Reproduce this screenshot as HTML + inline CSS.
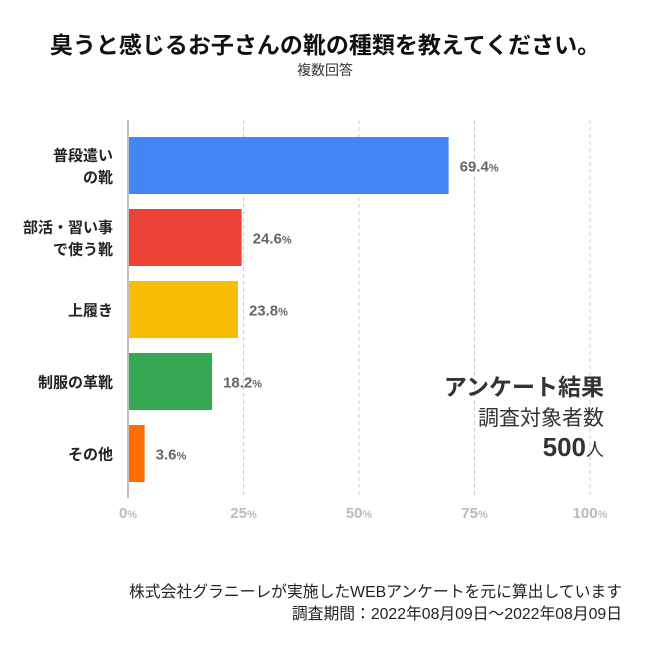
<!DOCTYPE html>
<html><head><meta charset="utf-8"><style>
body{margin:0;background:#fff;font-family:"Liberation Sans","Noto Sans CJK JP",sans-serif;}
#wrap{position:relative;width:650px;height:650px;overflow:hidden;background:#fff;}
.t{position:absolute;white-space:nowrap;}
</style></head><body>
<div id="wrap">
<div class="t" style="left:0;width:650px;text-align:center;top:26px;font-size:23px;font-weight:bold;color:#111;">臭うと感じるお子さんの靴の種類を教えてください。</div>
<div class="t" style="left:0;width:650px;text-align:center;top:60px;font-size:14px;color:#333;">複数回答</div>
<svg id="plot" width="650" height="650" style="position:absolute;left:0;top:0"></svg>
<div class="t" style="right:46px;top:368px;font-size:23px;font-weight:bold;color:#333;">アンケート結果</div>
<div class="t" style="right:46px;top:402px;font-size:21px;color:#333;">調査対象者数</div>
<div class="t" style="right:46px;top:432px;font-size:26px;font-weight:bold;color:#333;">500<span style="font-size:18px;font-weight:normal">人</span></div>
<div class="t" style="right:28px;top:582px;font-size:15.8px;color:#222;text-align:right;line-height:22px;">株式会社グラニーレが実施したWEBアンケートを元に算出しています<br>調査期間：2022年08月09日〜2022年08月09日</div>
</div>
<script>
const categories=[["普段遣い","の靴"],["部活・習い事","で使う靴"],["上履き"],["制服の革靴"],["その他"]];
const values=[69.4,24.6,23.8,18.2,3.6];
const colors=["#4285f4","#ea4335","#fbbc04","#34a853","#ff6d01"];
const ticks=[0,25,50,75,100];
const NS="http://www.w3.org/2000/svg";
const svg=document.getElementById('plot');
const x0=128,x1=590;
const xs=v=>x0+(x1-x0)*v/100;
const yTop=137,pitch=72,bh=57;
const ys=i=>yTop+i*pitch;
function mk(tag,attrs){const e=document.createElementNS(NS,tag);for(const k in attrs)e.setAttribute(k,attrs[k]);svg.appendChild(e);return e;}
ticks.forEach(t=>{
 if(t>0){const g=mk('line',{x1:xs(t),x2:xs(t),y1:120,y2:498,stroke:'#ccc','stroke-dasharray':'4,3','stroke-width':1});
 
 }
 const tl=mk('text',{x:xs(t),y:518,'text-anchor':'middle','font-size':15,'font-weight':'bold',fill:'#bbb','font-family':'Liberation Sans, sans-serif'});
 
 
 tl.innerHTML=t+'<tspan font-size="11">%</tspan>';
});
const ax=mk('line',{x1:x0,x2:x0,y1:120,y2:498,stroke:'#aaa','stroke-width':1.5});


values.forEach((v,i)=>{
 const r=mk('rect',{x:x0+1,y:ys(i),width:xs(v)-x0-1,height:bh,fill:colors[i]});
 
 
 const lb=mk('text',{x:xs(v)+11,y:ys(i)+bh/2+6,'font-size':15,'font-weight':'bold',fill:'#666','font-family':'Liberation Sans, sans-serif'});
 
 
 lb.innerHTML=v.toFixed(1)+'<tspan font-size="11">%</tspan>';
 const lines=categories[i];
 lines.forEach((s,j)=>{
  const c=mk('text',{x:113,y:ys(i)+bh/2+6+(j-(lines.length-1)/2)*22,'text-anchor':'end','font-size':15,'font-weight':'bold',fill:'#222','font-family':'Liberation Sans, Noto Sans CJK JP, sans-serif'});
  
  
  c.textContent=s;
 });
});
</script>
</body></html>
